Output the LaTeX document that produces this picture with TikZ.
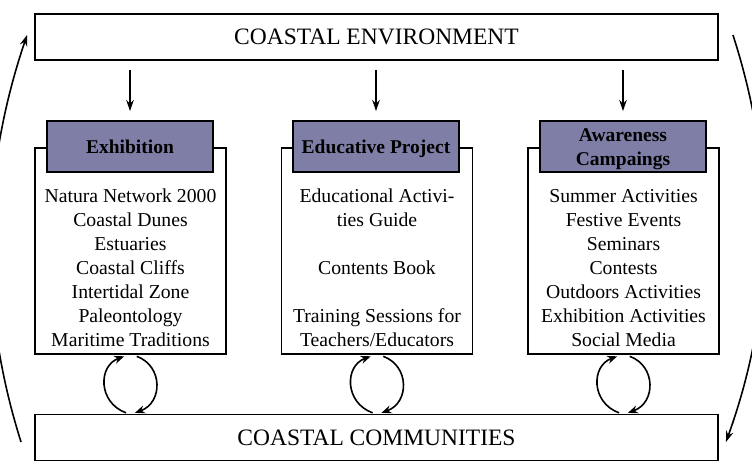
\documentclass[tikz,border=0pt]{standalone}
\usepackage{fontspec}
\setmainfont{Liberation Serif}
\usetikzlibrary{arrows.meta}
\definecolor{headfill}{RGB}{126,126,166}

\begin{document}
\begin{tikzpicture}[x=1pt, y=-1pt,
  bigbox/.style={draw, line width=1.9pt, minimum width=683pt, minimum height=46pt, inner sep=0pt, font=\fontsize{23.5}{28}\selectfont},
  listbox/.style={draw, line width=1.9pt, minimum width=191pt, minimum height=206pt, inner sep=0pt},
  listtext/.style={align=center, inner sep=0pt, font=\fontsize{19.7}{24}\selectfont},
  headbox/.style={draw, line width=1.9pt, fill=headfill, minimum width=166pt, minimum height=51pt, inner sep=0pt, align=center, font=\bfseries\fontsize{19.5}{24}\selectfont},
  flow/.style={-{Stealth[length=11pt,width=7.5pt]}, line width=1.6pt},
  backforth/.style={-{Stealth[length=10pt,width=8pt]}, line width=1.6pt},
]
\useasboundingbox (0,0) rectangle (752,475);
\node[bigbox] (env) at (376.5,37) {COASTAL ENVIRONMENT};
\node[bigbox] (com) at (376.5,437.5) {COASTAL COMMUNITIES};
% the three activity boxes
\node[listbox] (exh) at (130.5,251) {};
\node[listbox] (edu) at (377,251) {};
\node[listbox] (awa) at (623.5,251) {};
\node[listtext] (exhtext) at (130.5,268) {Natura Network 2000\\Coastal Dunes\\Estuaries\\Coastal Cliffs\\Intertidal Zone\\Paleontology\\Maritime Traditions};
\node[listtext] (edutext) at (377,268) {Educational Activi-\\ties Guide\\[24pt]Contents Book\\[24pt]Training Sessions for\\Teachers/Educators};
\node[listtext] (awatext) at (623.5,268) {Summer Activities\\Festive Events\\Seminars\\Contests\\Outdoors Activities\\Exhibition Activities\\Social Media};
\node[headbox] (exhhead) at (130,146.5) {Exhibition};
\node[headbox] (eduhead) at (376,146.5) {\rule{0pt}{17.2pt}Educative Project};
\node[headbox] (awahead) at (623,146.5) {\rule{0pt}{19pt}Awareness\\Campaings};
% environment feeds each activity
\draw[flow, shorten <=9pt, shorten >=9pt] (env.south -| exhhead) -- (exhhead.north);
\draw[flow, shorten <=9pt, shorten >=9pt] (env.south -| eduhead) -- (eduhead.north);
\draw[flow, shorten <=9pt, shorten >=9pt] (env.south -| awahead) -- (awahead.north);
% two-way exchange with the communities
\draw[backforth, shorten <=2pt, shorten >=4pt] ([xshift=-2.5pt]exh.south |- com.north) to[bend left=70, looseness=1.4] ([xshift=-2.5pt]exh.south);
\draw[backforth, shorten <=4pt, shorten >=2pt] ([xshift=2.5pt]exh.south) to[bend left=70, looseness=1.4] ([xshift=2.5pt]exh.south |- com.north);
\draw[backforth, shorten <=2pt, shorten >=4pt] ([xshift=-2.5pt]edu.south |- com.north) to[bend left=70, looseness=1.4] ([xshift=-2.5pt]edu.south);
\draw[backforth, shorten <=4pt, shorten >=2pt] ([xshift=2.5pt]edu.south) to[bend left=70, looseness=1.4] ([xshift=2.5pt]edu.south |- com.north);
\draw[backforth, shorten <=2pt, shorten >=4pt] ([xshift=-2.5pt]awa.south |- com.north) to[bend left=70, looseness=1.4] ([xshift=-2.5pt]awa.south);
\draw[backforth, shorten <=4pt, shorten >=2pt] ([xshift=2.5pt]awa.south) to[bend left=70, looseness=1.4] ([xshift=2.5pt]awa.south |- com.north);
% outer loop
\draw[flow] ([shift={(-13,4.5)}]com.west) .. controls +(-43,-136) and +(-46,136) .. ([shift={(-7,-2)}]env.west);
\draw[flow] ([shift={(14,-2)}]env.east) .. controls +(44,136) and +(49,-136) .. ([shift={(7,4.5)}]com.east);
\end{tikzpicture}
\end{document}
